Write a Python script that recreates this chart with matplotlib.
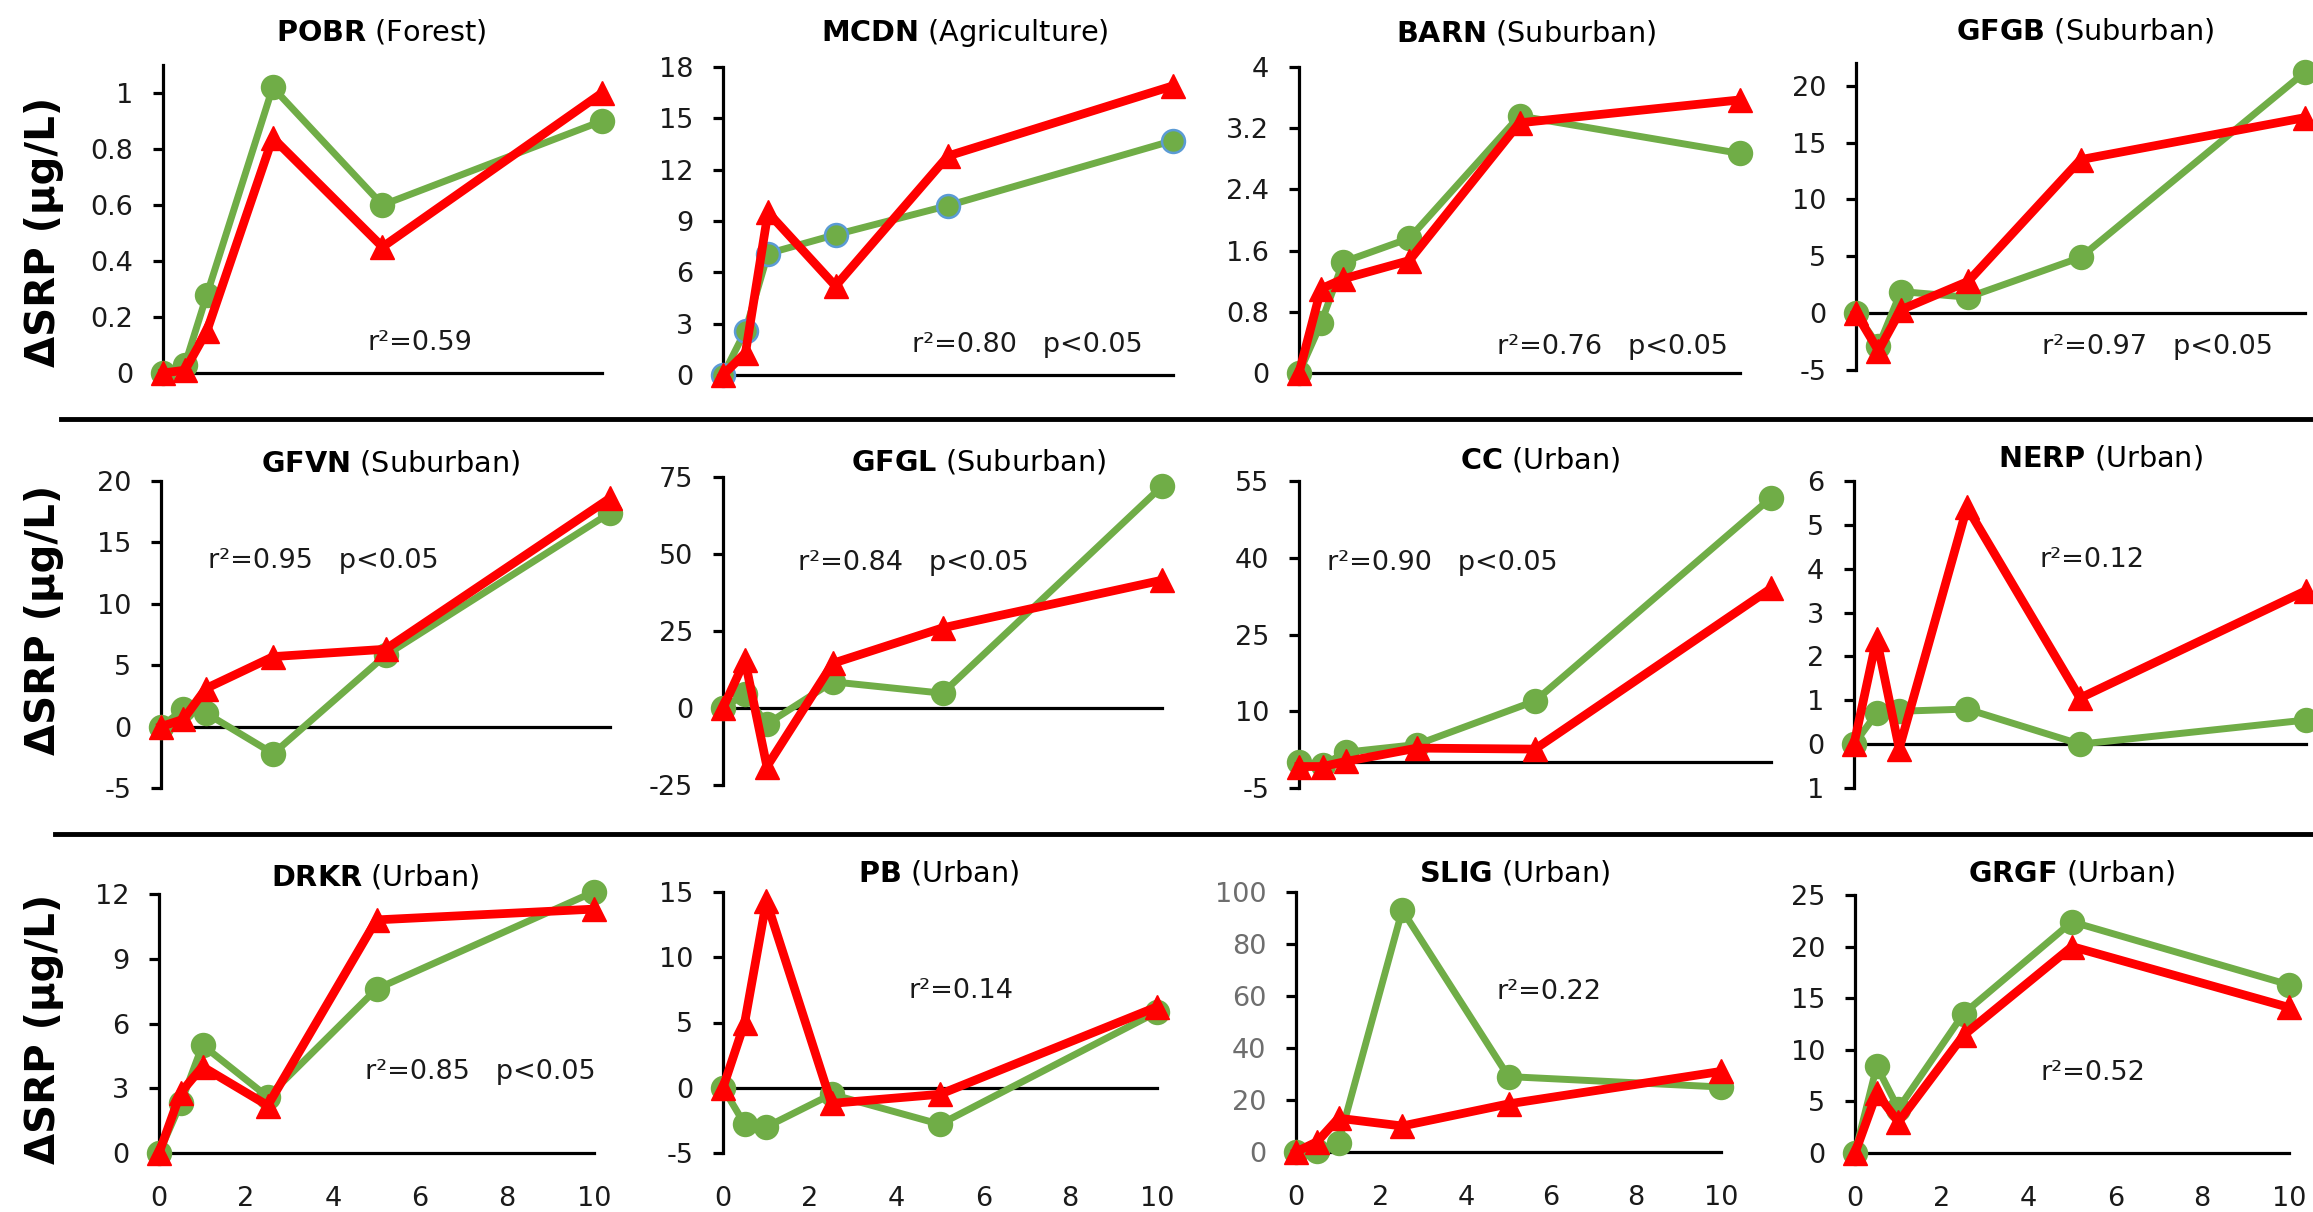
import numpy as np
import matplotlib
matplotlib.use("Agg")
import matplotlib.pyplot as plt
from matplotlib.lines import Line2D

plt.rcParams['font.family'] = ['DejaVu Sans']
plt.rcParams['mathtext.fontset'] = 'dejavusans'

W, H = 2313, 1212

# x values shared by every panel
dose = [0, 0.5, 1, 2.5, 5, 10]

sites = ["POBR", "MCDN", "BARN", "GFGB",
         "GFVN", "GFGL", "CC", "NERP",
         "DRKR", "PB", "SLIG", "GRGF"]
landuse = ["Forest", "Agriculture", "Suburban", "Suburban",
           "Suburban", "Suburban", "Urban", "Urban",
           "Urban", "Urban", "Urban", "Urban"]
stats = ["r²=0.59", "r²=0.80   p<0.05", "r²=0.76   p<0.05", "r²=0.97   p<0.05",
         "r²=0.95   p<0.05", "r²=0.84   p<0.05", "r²=0.90   p<0.05", "r²=0.12",
         "r²=0.85   p<0.05", "r²=0.14", "r²=0.22", "r²=0.52"]

# green circles / red triangles, one pair per site
pobr_circ = [0, 0.03, 0.28, 1.02, 0.60, 0.90]
pobr_tri = [0, 0.01, 0.15, 0.84, 0.45, 1.00]
mcdn_circ = [0, 2.6, 7.1, 8.2, 9.9, 13.7]
mcdn_tri = [0, 1.3, 9.5, 5.2, 12.8, 16.9]
barn_circ = [0, 0.65, 1.45, 1.76, 3.36, 2.87]
barn_tri = [0, 1.1, 1.23, 1.47, 3.27, 3.57]
gfgb_circ = [0, -2.9, 1.9, 1.4, 4.9, 21.2]
gfgb_tri = [0, -3.3, 0.3, 2.8, 13.5, 17.2]
gfvn_circ = [0, 1.4, 1.1, -2.2, 5.8, 17.4]
gfvn_tri = [0, 0.6, 3.1, 5.7, 6.3, 18.6]
gfgl_circ = [0, 4.5, -5.2, 8.5, 4.8, 72]
gfgl_tri = [0, 15.5, -19, 14.5, 26, 41.5]
cc_circ = [0, -0.5, 2.0, 3.5, 12.0, 51.7]
cc_tri = [-0.8, -0.8, 0.2, 2.8, 2.6, 34]
nerp_circ = [0, 0.7, 0.75, 0.8, 0, 0.55]
nerp_tri = [0, 2.4, -0.1, 5.4, 1.05, 3.5]
drkr_circ = [0, 2.3, 5.0, 2.6, 7.6, 12.1]
drkr_tri = [0, 2.8, 4.0, 2.2, 10.8, 11.3]
pb_circ = [0, -2.8, -3.0, -0.5, -2.8, 5.8]
pb_tri = [0, 5.0, 14.3, -1.2, -0.5, 6.2]
slig_circ = [0, 0.5, 3.5, 93, 29, 25]
slig_tri = [0, 4, 13, 10, 18.5, 31]
grgf_circ = [0, 8.4, 4.3, 13.5, 22.4, 16.3]
grgf_tri = [0, 5.8, 3.0, 11.4, 20.0, 14.1]

circ_series = [pobr_circ, mcdn_circ, barn_circ, gfgb_circ, gfvn_circ, gfgl_circ,
               cc_circ, nerp_circ, drkr_circ, pb_circ, slig_circ, grgf_circ]
tri_series = [pobr_tri, mcdn_tri, barn_tri, gfgb_tri, gfvn_tri, gfgl_tri,
              cc_tri, nerp_tri, drkr_tri, pb_tri, slig_tri, grgf_tri]

# y axis range and tick step for each panel
y_min = [0, 0, 0, -5, -5, -25, -5, -1, 0, -5, 0, 0]
y_max = [1.1, 18, 4, 22, 20, 75, 55, 6, 12, 15, 100, 25]
y_step = [0.2, 3, 0.8, 5, 5, 25, 15, 1, 3, 5, 20, 5]
x_ticks = [0, 2, 4, 6, 8, 10]

# where the stats text sits, in data units (x, y)
stat_x = [4.65, 4.2, 4.5, 4.15, 1.05, 1.7, 0.6, 4.1, 4.73, 4.27, 4.72, 4.27]
stat_y = [0.107, 1.75, 0.34, -3.0, 13.5, 47, 39, 4.2, 3.75, 7.4, 61.5, 7.8]

# layout in reference pixels: x of 0, x of 10, top, bottom
boxes = [(163, 602, 65, 373), (723, 1173, 67, 375), (1299, 1740, 67, 373), (1856, 2305, 63, 370),
         (161, 610, 481, 788), (723, 1162, 477, 785), (1299, 1771, 481, 788), (1854, 2306, 481, 788),
         (159, 594, 894, 1153), (723, 1157, 892, 1153), (1296, 1721, 892, 1152), (1855, 2289, 895, 1153)]
title_xy = [(381, 32), (965, 33), (1526, 33), (2085, 31),
            (391, 463), (979, 462), (1540, 460), (2100, 458),
            (375, 877), (939, 873), (1515, 873), (2071, 873)]

GREEN = '#70AD47'
RED = '#FF0000'
TXT = '#1a1a1a'

fig = plt.figure(figsize=(W / 100, H / 100), dpi=100)

for i, site in enumerate(sites):
    x0, x10, top, bot = boxes[i]
    ax = fig.add_axes([x0 / W, 1 - bot / H, (x10 - x0) / W, (bot - top) / H])
    ax.set_facecolor('none')

    edge = '#5B9BD5' if site == "MCDN" else GREEN
    ax.plot(dose, circ_series[i], color=GREEN, lw=5, marker='o', ms=16.5,
            mfc=GREEN, mec=edge, mew=1.8, clip_on=False, zorder=3)
    ax.plot(dose, tri_series[i], color=RED, lw=6.3, marker='^', ms=17,
            mfc=RED, mec=RED, clip_on=False, zorder=4)
    ax.axhline(0, color='black', lw=2.3, zorder=2, clip_on=False)

    ax.set_xlim(0, 10)
    ax.set_ylim(y_min[i], y_max[i])
    ticks = np.arange(y_min[i], y_max[i] + 1e-9, y_step[i])
    ax.set_yticks(ticks)
    if site == "NERP":
        labels = ["%g" % abs(round(t, 2)) for t in ticks]
    else:
        labels = ["%g" % round(t, 2) for t in ticks]
    tick_color = '#6e6e6e' if site == "SLIG" else TXT
    ax.set_yticklabels(labels, fontsize=19.5, color=tick_color)
    ax.tick_params(axis='y', length=7.5, width=2.3, pad=14, direction='out')

    if i >= 8:
        ax.set_xticks(x_ticks)
        ax.set_xticklabels([str(t) for t in x_ticks], fontsize=19.5, color=TXT)
        ax.tick_params(axis='x', length=0, pad=24)
    else:
        ax.set_xticks([])

    for s in ['top', 'right', 'bottom']:
        ax.spines[s].set_visible(False)
    ax.spines['left'].set_linewidth(2.3)

    ax.text(stat_x[i], stat_y[i], stats[i], fontsize=19.5, color=TXT,
            ha='left', va='center', zorder=5)

    tx, ty = title_xy[i]
    fig.text(tx / W, 1 - ty / H, r"$\mathbf{%s}$ (%s)" % (site, landuse[i]),
             fontsize=20.7, ha='center', va='center', color='black')

# row separators
for ys, xs in [(419, 61), (834, 55)]:
    fig.add_artist(Line2D([xs / W, 1], [1 - ys / H, 1 - ys / H], color='black',
                          lw=3.5, transform=fig.transFigure))

# row y labels
for yc in [232, 620, 1029]:
    fig.text(44 / W, 1 - yc / H, "ΔSRP (µg/L)", rotation=90, ha='center', va='center',
             fontsize=29, fontweight='bold', color='black')

fig.savefig('out.png', dpi=100)
